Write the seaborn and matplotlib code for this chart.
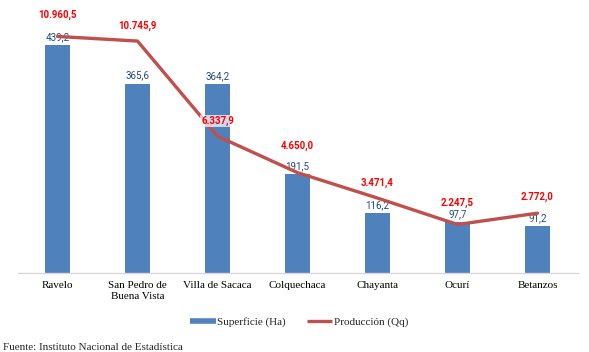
import numpy as np
import pandas as pd
import matplotlib
matplotlib.use('Agg')
import matplotlib.pyplot as plt
import seaborn as sns
from matplotlib.lines import Line2D

# datos: superficie y produccion por municipio
municipios = ['Ravelo', 'San Pedro de\nBuena Vista', 'Villa de Sacaca', 'Colquechaca',
              'Chayanta', 'Ocurí', 'Betanzos']
superficie = [439.2, 365.6, 364.2, 191.5, 116.2, 97.7, 91.2]
produccion = [10960.5, 10745.9, 6337.9, 4650.0, 3471.4, 2247.5, 2772.0]

# desplazamiento de las etiquetas rojas (px sobre el punto)
off_prod = [22, 15, 15, 27, 15, 22, 16]

sns.set_style('white')
plt.rcParams['font.family'] = ['Liberation Serif', 'DejaVu Serif']

def fmt(v):
    # formato 10.960,5
    s = '{:,.1f}'.format(v)
    return s.replace(',', 'X').replace('.', ',').replace('X', '.')

df = pd.DataFrame({'municipio': municipios, 'sup': superficie, 'prod': produccion})

fig = plt.figure(figsize=(5.89, 3.52), dpi=100)
ax = fig.add_axes([17.5/589, 1-273/352, 560/589, 259/352])
sns.barplot(data=df, x='municipio', y='sup', color='#4F81BD', width=0.32,
            saturation=1, linewidth=0, ax=ax)
ax.set_ylim(0, 500)
ax.set_xlim(-0.5, 6.5)

ax2 = ax.twinx()
sns.lineplot(data=df, x='municipio', y='prod', color='#C0504D', linewidth=2.4,
             sort=False, ax=ax2)
ax2.set_ylim(0, 12000)

for a in (ax, ax2):
    for s in ['top', 'right', 'left']:
        a.spines[s].set_visible(False)
    a.set_ylabel('')
    a.set_xlabel('')
    a.set_yticks([])
ax2.spines['bottom'].set_visible(False)
ax.spines['bottom'].set_color('#D9D9D9')
ax.spines['bottom'].set_linewidth(1)
ax.tick_params(axis='x', length=0, pad=6, labelsize=8, labelcolor='black')

# etiquetas de barras
for i, v in enumerate(superficie):
    ax.annotate(fmt(v), (i, v), xytext=(0, 3), textcoords='offset pixels',
                ha='center', va='bottom', fontsize=7, color='#1F497D',
                family='Roboto',
                bbox=dict(boxstyle='square,pad=0.1', fc='white', ec='none', alpha=0.7))

# etiquetas de la linea
for i, v in enumerate(produccion):
    ax2.annotate(fmt(v), (i, v), xytext=(0, off_prod[i]), textcoords='offset pixels',
                 ha='center', va='center', fontsize=7, color='#FF0000',
                 family='Roboto', fontweight='bold',
                 bbox=dict(boxstyle='square,pad=0.1', fc='white', ec='none', alpha=0.7))

handles = [Line2D([], [], color='#4F81BD', linewidth=4, solid_capstyle='butt'),
           Line2D([], [], color='#C0504D', linewidth=2.4, solid_capstyle='butt')]
fig.legend(handles, ['Superficie (Ha)', 'Producción (Qq)'], loc='center',
           bbox_to_anchor=(0.508, 1-322/352), ncol=2, frameon=False, fontsize=8,
           handlelength=2.3, handletextpad=0.1, columnspacing=1.9)

fig.text(3/589, 1-347/352, 'Fuente: Instituto Nacional de Estadística',
         fontsize=8, ha='left', va='center')

fig.savefig('out.png', dpi=100)
